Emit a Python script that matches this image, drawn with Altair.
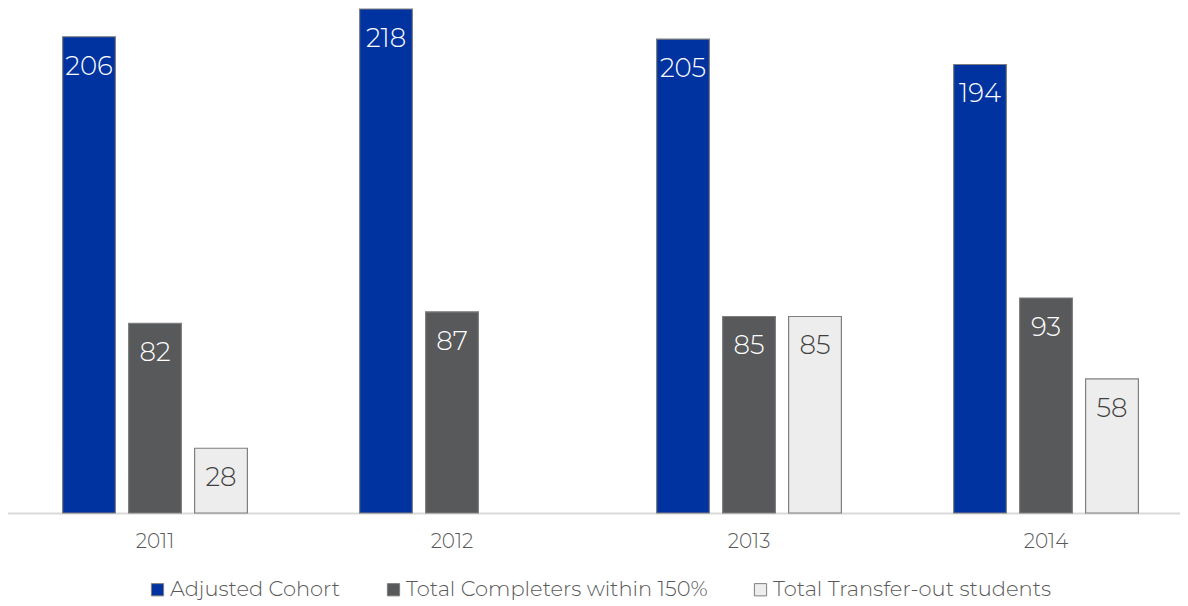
import altair as alt
import pandas as pd

years = ["2011", "2012", "2013", "2014"]
series = ["Adjusted Cohort", "Total Completers within 150%", "Total Transfer-out students"]
adjusted_cohort = [206, 218, 205, 194]
completers = [82, 87, 85, 93]
transfer_out = [28, None, 85, 58]
colors = ["#0033A0", "#58595B", "#EDEDED"]
label_colors = ["#FFFFFF", "#FFFFFF", "#404040"]

rows = []
for i, y in enumerate(years):
    for s, vals, lc in zip(series, [adjusted_cohort, completers, transfer_out], label_colors):
        rows.append({"year": y, "series": s, "value": vals[i], "lc": lc})
df = pd.DataFrame(rows)

FONT = "Montserrat, Lato, 'Open Sans', sans-serif"
W, H = 1172, 505

x = alt.X("year:N", title=None, sort=years,
          scale=alt.Scale(range=[-1.5, 1186.5], paddingInner=0, paddingOuter=0),
          axis=alt.Axis(labelAngle=0, labelFontSize=20, labelColor="#595959",
                        labelFont=FONT, labelFontWeight=300, ticks=False,
                        domainColor="#D9D9D9", domainWidth=2, labelPadding=18))
xo = alt.XOffset("series:N", sort=series,
                 scale=alt.Scale(paddingInner=0.2, paddingOuter=0.85))
y = alt.Y("value:Q", title=None, scale=alt.Scale(domain=[0, 218.43], nice=False),
          axis=None)

bars = alt.Chart(df).mark_bar(stroke="#7F7F7F", strokeWidth=1.2).encode(
    x=x, xOffset=xo, y=y,
    color=alt.Color("series:N", sort=series,
                    scale=alt.Scale(domain=series, range=colors),
                    legend=alt.Legend(title=None, orient="none", legendX=139, legendY=571,
                                      direction="horizontal",
                                      symbolType="square", symbolSize=150,
                                      symbolStrokeColor="#7F7F7F", symbolStrokeWidth=1,
                                      labelFontSize=21, labelColor="#595959",
                                      labelFont=FONT, labelFontWeight=300, labelLimit=0,
                                      columnPadding=42, labelOffset=2,
                                      padding=0)),
)

labels = alt.Chart(df).mark_text(baseline="middle", dy=30, fontSize=26,
                                 font=FONT, fontWeight=300).encode(
    x=x, xOffset=xo, y=y,
    text=alt.Text("value:Q", format=".0f"),
    color=alt.Color("lc:N", scale=None),
)

chart = (bars + labels).properties(
    width=W, height=H,
    autosize=alt.AutoSizeParams(type="none"),
    padding={"left": 0, "top": 0, "right": 0, "bottom": 89},
).configure_view(stroke=None).configure_axis(grid=False)

chart.save("out.html", embed_options={"renderer": "svg", "actions": False})
